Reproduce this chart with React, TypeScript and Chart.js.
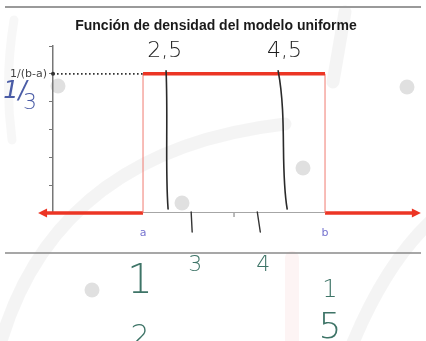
import React, { useEffect, useRef } from "react";
import { Chart, registerables } from "chart.js";

Chart.register(...registerables);

// ---- data ----
const titleText = "Función de densidad del modelo uniforme";
const boundLabels = ["a", "b"];
const boundValues = [2, 5];
const density = 1 / 3;
const densityLabel = "1/(b-a)";
const yTicks = [0, 1 / 15, 2 / 15, 3 / 15, 4 / 15, 5 / 15, 6 / 15];
const axisExtent = [0.27, 6.58];
const xRange = [0.516, 6.582];
const minorTickX = [3.5];
// handwritten annotations
const handLineX = [2.38, 4.31];
const handTopLabels = ["2,5", "4,5"];
const handTopX = [2.36, 4.33];
const handTickX = [2.81, 3.9];
const handTickLabels = ["3", "4"];
const handTickLabelX = [2.86, 3.98];
const handFracNum = ["1", "1"];
const handFracDen = ["2", "5"];
const handFracX = [1.95, 5.08];
const handDensityNum = "1/";
const handDensityDen = "3";

const RED = "#ec3524";

const decorPlugin = {
  id: "decor",
  beforeDraw(chart: any) {
    const { ctx, width } = chart;
    ctx.save();
    ctx.fillStyle = "#ffffff";
    ctx.fillRect(0, 0, chart.width, chart.height);
    // faint watermark of the video frame
    ctx.lineCap = "round";
    ctx.strokeStyle = "rgba(0,0,0,0.045)";
    ctx.lineWidth = 13;
    ctx.beginPath();
    ctx.moveTo(2, 338);
    ctx.quadraticCurveTo(60, 150, 285, 124);
    ctx.stroke();
    ctx.beginPath();
    ctx.moveTo(352, 345);
    ctx.quadraticCurveTo(385, 265, 430, 222);
    ctx.stroke();
    ctx.beginPath();
    ctx.moveTo(345, 12);
    ctx.lineTo(333, 82);
    ctx.stroke();
    ctx.strokeStyle = "rgba(0,0,0,0.03)";
    ctx.lineWidth = 9;
    ctx.beginPath();
    ctx.moveTo(14, 20);
    ctx.quadraticCurveTo(4, 80, 12, 140);
    ctx.stroke();
    ctx.strokeStyle = "rgba(235,120,110,0.08)";
    ctx.lineWidth = 14;
    ctx.beginPath();
    ctx.moveTo(292, 258);
    ctx.lineTo(292, 341);
    ctx.stroke();
    ctx.fillStyle = "rgba(0,0,0,0.12)";
    [
      [58, 86],
      [407, 87],
      [303, 168],
      [182, 203],
      [92, 290],
    ].forEach(([cx, cy]) => {
      ctx.beginPath();
      ctx.arc(cx, cy, 7.5, 0, Math.PI * 2);
      ctx.fill();
    });
    // video frame lines
    ctx.strokeStyle = "#9a9a9a";
    ctx.lineCap = "butt";
    ctx.lineWidth = 2;
    ctx.beginPath();
    ctx.moveTo(5, 7);
    ctx.lineTo(width - 5, 7);
    ctx.stroke();
    ctx.strokeStyle = "#8a8a8a";
    ctx.lineWidth = 1.5;
    ctx.beginPath();
    ctx.moveTo(5, 253);
    ctx.lineTo(width - 5, 253);
    ctx.stroke();
    ctx.restore();
  },
  afterDatasetsDraw(chart: any) {
    const { ctx } = chart;
    const xs = chart.scales.x;
    const ys = chart.scales.y;
    const y0 = ys.getPixelForValue(0);
    const yd = ys.getPixelForValue(density);
    ctx.save();
    // arrowheads
    ctx.fillStyle = RED;
    const lx = xs.getPixelForValue(axisExtent[0]);
    const rx = xs.getPixelForValue(axisExtent[1]);
    ctx.beginPath();
    ctx.moveTo(lx, y0);
    ctx.lineTo(lx + 9, y0 - 4.5);
    ctx.lineTo(lx + 9, y0 + 4.5);
    ctx.closePath();
    ctx.fill();
    ctx.beginPath();
    ctx.moveTo(rx, y0);
    ctx.lineTo(rx - 9, y0 - 4.5);
    ctx.lineTo(rx - 9, y0 + 4.5);
    ctx.closePath();
    ctx.fill();
    // minor ticks on axis
    ctx.strokeStyle = "#777";
    ctx.lineWidth = 1;
    minorTickX.forEach((v) => {
      const px = xs.getPixelForValue(v);
      ctx.beginPath();
      ctx.moveTo(px, y0);
      ctx.lineTo(px, y0 + 4);
      ctx.stroke();
    });
    // dotted guide
    const ax = chart.chartArea.left;
    const aPx = xs.getPixelForValue(boundValues[0]);
    ctx.strokeStyle = "#333";
    ctx.lineWidth = 1.6;
    ctx.setLineDash([1.6, 2.4]);
    ctx.beginPath();
    ctx.moveTo(ax, yd);
    ctx.lineTo(aPx, yd);
    ctx.stroke();
    ctx.setLineDash([]);
    ctx.fillStyle = "#333";
    ctx.beginPath();
    ctx.arc(ax, yd, 2, 0, Math.PI * 2);
    ctx.fill();
    // a / b labels
    ctx.fillStyle = "#7673cf";
    ctx.font = '11px "DejaVu Sans"';
    ctx.textAlign = "center";
    ctx.textBaseline = "middle";
    boundValues.forEach((v, i) => {
      ctx.fillText(boundLabels[i], xs.getPixelForValue(v), y0 + 20);
    });
    // title
    ctx.fillStyle = "#1a1a1a";
    ctx.font = 'bold 14px "Liberation Sans"';
    ctx.fillText(titleText, 216, 26);

    // handwritten lines
    ctx.strokeStyle = "#2a2a2a";
    ctx.lineWidth = 1.6;
    ctx.lineCap = "round";
    const wobble = [
      [0, 0, 1, 2],
      [-5, 2, -1, 4],
    ];
    handLineX.forEach((v, i) => {
      const px = xs.getPixelForValue(v);
      const w = wobble[i];
      ctx.beginPath();
      ctx.moveTo(px + w[0], yd - 3);
      ctx.bezierCurveTo(px + w[1] + 2, yd + 45, px + w[2] - 2, yd + 95, px + w[3], y0 - 4);
      ctx.stroke();
    });
    // handwritten ticks
    ctx.strokeStyle = "#333";
    ctx.lineWidth = 1.4;
    handTickX.forEach((v, i) => {
      const px = xs.getPixelForValue(v);
      ctx.beginPath();
      ctx.moveTo(px - 1, y0 - 1);
      ctx.lineTo(px + (i === 0 ? 0 : 2), y0 + 19);
      ctx.stroke();
    });
    // handwritten texts
    ctx.font = '200 22px "DejaVu Sans"';
    ctx.fillStyle = "#1e1e1e";
    handTopLabels.forEach((t, i) => {
      ctx.fillText(t, xs.getPixelForValue(handTopX[i]), 51);
    });
    ctx.fillStyle = "#4a5ca6";
    ctx.font = 'italic 200 24px "DejaVu Sans"';
    ctx.fillText(handDensityNum, 15, 92);
    ctx.font = '200 22px "DejaVu Sans"';
    ctx.fillText(handDensityDen, 30, 103);
    ctx.fillStyle = "#3e7467";
    ctx.font = '200 22px "DejaVu Sans"';
    handTickLabels.forEach((t, i) => {
      ctx.fillText(t, xs.getPixelForValue(handTickLabelX[i]), 265);
    });
    const numSize = [40, 24];
    const denSize = [30, 36];
    const numY = [283, 291];
    const denY = [338, 329];
    handFracNum.forEach((t, i) => {
      const px = xs.getPixelForValue(handFracX[i]);
      ctx.font = `200 ${numSize[i]}px "DejaVu Sans"`;
      ctx.fillText(t, px, numY[i]);
      ctx.font = `200 ${denSize[i]}px "DejaVu Sans"`;
      ctx.fillText(handFracDen[i], px, denY[i]);
    });
    ctx.restore();
  },
};

export default function App() {
  const ref = useRef<HTMLCanvasElement>(null);
  useEffect(() => {
    if (!ref.current) return;
    const [a, b] = boundValues;
    const chart = new Chart(ref.current, {
      type: "line",
      data: {
        datasets: [
          {
            data: [
              { x: a, y: density },
              { x: b, y: density },
            ],
            borderColor: RED,
            borderWidth: 3.5,
            pointRadius: 0,
          },
          {
            data: [
              { x: a, y: 0 },
              { x: a, y: density },
            ],
            borderColor: "#f07a70",
            borderWidth: 1,
            pointRadius: 0,
          },
          {
            data: [
              { x: b, y: 0 },
              { x: b, y: density },
            ],
            borderColor: "#f07a70",
            borderWidth: 1,
            pointRadius: 0,
          },
          {
            data: [
              { x: a, y: 0 },
              { x: b, y: 0 },
            ],
            borderColor: "#888",
            borderWidth: 1.5,
            pointRadius: 0,
          },
          {
            data: [
              { x: axisExtent[0] + 0.1, y: 0 },
              { x: a, y: 0 },
            ],
            borderColor: RED,
            borderWidth: 3.5,
            pointRadius: 0,
            clip: false,
          },
          {
            data: [
              { x: b, y: 0 },
              { x: axisExtent[1] - 0.1, y: 0 },
            ],
            borderColor: RED,
            borderWidth: 3.5,
            pointRadius: 0,
            clip: false,
          },
        ] as any,
      },
      options: {
        animation: false,
        responsive: false,
        layout: { padding: { left: 7, right: 5, top: 46, bottom: 128 } },
        plugins: { legend: { display: false }, tooltip: { enabled: false }, title: { display: false } },
        scales: {
          x: { type: "linear", min: xRange[0], max: xRange[1], display: false },
          y: {
            min: 0,
            max: yTicks[yTicks.length - 1],
            afterBuildTicks: (s: any) => {
              s.ticks = yTicks.map((v) => ({ value: v }));
            },
            afterFit: (s: any) => {
              s.width = 46;
            },
            ticks: {
              callback: (v: any) => (Math.abs(Number(v) - density) < 1e-9 ? densityLabel : ""),
              font: { size: 11, family: "DejaVu Sans" },
              color: "#444",
              padding: 2,
            },
            grid: { drawOnChartArea: false, tickLength: 4, color: "#777", lineWidth: 1 },
            border: { color: "#777", width: 1.5 },
          },
        },
      },
      plugins: [decorPlugin],
    });
    return () => chart.destroy();
  }, []);
  return (
    <div style={{ position: "fixed", left: 0, top: 0, width: 426, height: 341, background: "#fff" }}>
      <canvas ref={ref} width={426} height={341} style={{ width: 426, height: 341, display: "block" }} />
    </div>
  );
}
